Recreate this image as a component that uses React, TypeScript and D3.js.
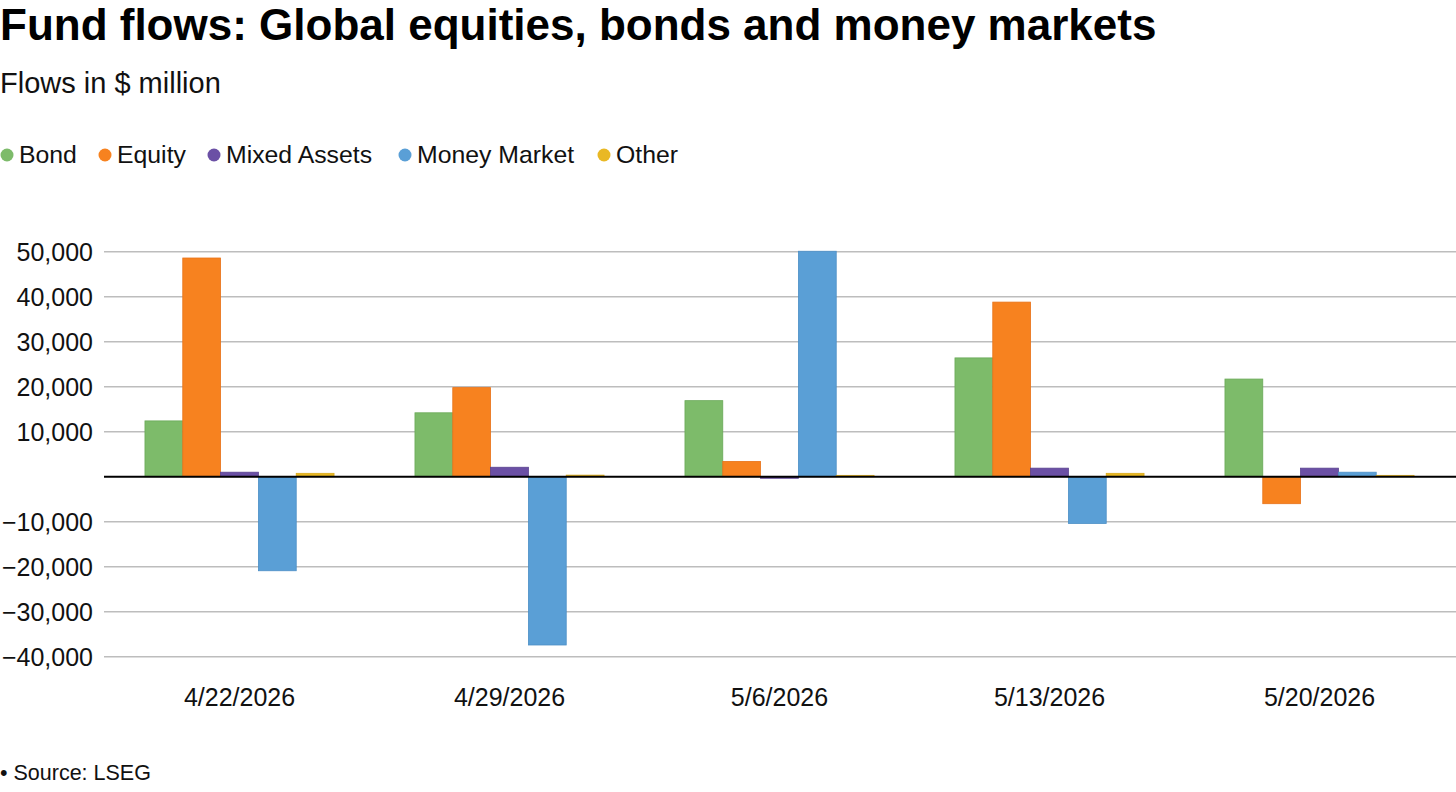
import { useEffect } from 'react';
import * as d3 from 'd3';

const dates = ['4/22/2026', '4/29/2026', '5/6/2026', '5/13/2026', '5/20/2026'];
const seriesNames = ['Bond', 'Equity', 'Mixed Assets', 'Money Market', 'Other'];
const bond = [12400, 14200, 16900, 26400, 21700];
const equity = [48600, 19800, 3400, 38800, -6000];
const mixedAssets = [1000, 2100, -350, 1900, 1900];
const moneyMarket = [-20900, -37400, 50100, -10400, 1000];
const other = [750, 350, 300, 750, 300];
const yTicks = [-40000, -30000, -20000, -10000, 10000, 20000, 30000, 40000, 50000];

const colors = ['#7dbb6a', '#f7821f', '#6b50a5', '#5a9fd6', '#e9b824'];
const strokes = ['#6aa958', '#e8731a', '#5a4390', '#4d8fc6', '#d9a81a'];

const values = [bond, equity, mixedAssets, moneyMarket, other];
const font = '"Liberation Sans", Arial, Helvetica, sans-serif';

export default function App() {
  useEffect(() => {
    document.body.style.margin = '0';
  }, []);

  const width = 1456;
  const height = 792;

  const x0 = d3.scaleBand<string>().domain(dates).range([104.5, 1454.5]).padding(0);
  const x1 = d3.scaleBand<string>()
    .domain(seriesNames)
    .range([0, x0.bandwidth()])
    .paddingInner(0)
    .paddingOuter(1.07);
  const y = d3.scaleLinear().domain([-40000, 50000]).range([656.7, 251.7]);

  const fmt = (v: number) => (v < 0 ? '\u2212' : '') + d3.format(',')(Math.abs(v));

  // legend positions
  const legendX = [7, 105, 214, 405, 604];

  return (
    <svg width={width} height={height} style={{ display: 'block', background: '#fff' }} fontFamily={font}>
      <text x={0} y={40} fontSize={44} fontWeight="bold" fill="#000">
        Fund flows: Global equities, bonds and money markets
      </text>
      <text x={0} y={93} fontSize={29} fill="#111">
        Flows in $ million
      </text>

      {seriesNames.map((s, i) => (
        <g key={s} transform={`translate(${legendX[i]},154)`}>
          <circle cx={0} cy={1} r={6.5} fill={colors[i]} />
          <text x={12} y={9} fontSize={24.8} fill="#111">{s}</text>
        </g>
      ))}

      {yTicks.map(t => (
        <g key={t}>
          <line x1={104} x2={1456} y1={y(t)} y2={y(t)} stroke="#bdbdbd" strokeWidth={1.5} />
          <text x={93} y={y(t) + 9} fontSize={25} textAnchor="end" fill="#111">{fmt(t)}</text>
        </g>
      ))}

      {dates.map((d, di) => (
        <g key={d} transform={`translate(${x0(d)},0)`}>
          {seriesNames.map((s, si) => {
            const v = values[si][di];
            const top = y(Math.max(0, v));
            const h = Math.abs(y(v) - y(0));
            return (
              <rect
                key={s}
                x={x1(s)}
                y={top}
                width={x1.bandwidth()}
                height={h}
                fill={colors[si]}
                stroke={strokes[si]}
                strokeWidth={0.8}
              />
            );
          })}
          <text x={x0.bandwidth() / 2} y={706} fontSize={25} textAnchor="middle" fill="#111">{d}</text>
        </g>
      ))}

      <line x1={104} x2={1456} y1={y(0)} y2={y(0)} stroke="#000" strokeWidth={2} />

      <text x={0} y={780} fontSize={21.5} fill="#111">{'\u2022 Source: LSEG'}</text>
    </svg>
  );
}
